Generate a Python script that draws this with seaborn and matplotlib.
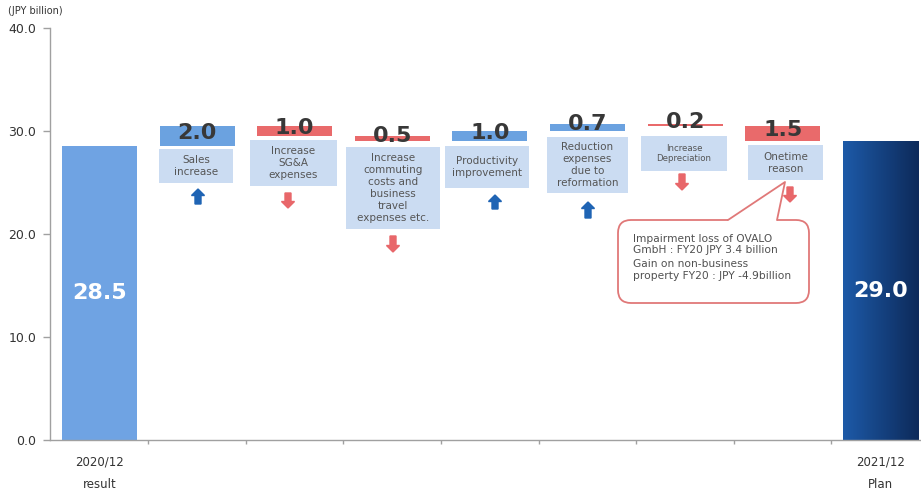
import numpy as np
import pandas as pd
import matplotlib
matplotlib.use("Agg")
import matplotlib.pyplot as plt
import seaborn as sns
from matplotlib.patches import Rectangle, FancyBboxPatch, Polygon, FancyArrow
from matplotlib.colors import LinearSegmentedColormap

# ---------------- data ----------------
start_label = "2020/12\nresult"
end_label = "2021/12\nPlan"
start_value = 28.5
end_value = 29.0
factor_names = [
    "Sales\nincrease",
    "Increase\nSG&A\nexpenses",
    "Increase\ncommuting\ncosts and\nbusiness\ntravel\nexpenses etc.",
    "Productivity\nimprovement",
    "Reduction\nexpenses\ndue to\nreformation",
    "Increase\nDepreciation",
    "Onetime\nreason",
]
factor_deltas = [2.0, -1.0, -0.5, 1.0, 0.7, -0.2, -1.5]
y_ticks = [0, 10, 20, 30, 40]
unit_label = "(JPY billion)"
callout_lines = [
    "Impairment loss of OVALO",
    "GmbH : FY20 JPY 3.4 billion",
    "Gain on non-business",
    "property FY20 : JPY -4.9billion",
]

# ---------------- derived waterfall table ----------------
keys = ["start"] + [f"f{i}" for i in range(len(factor_deltas))] + ["end"]
bottoms, heights, kinds = [0.0], [start_value], ["start"]
level = start_value
for d in factor_deltas:
    new = level + d
    bottoms.append(min(level, new))
    heights.append(abs(d))
    kinds.append("up" if d > 0 else "down")
    level = new
bottoms.append(0.0)
heights.append(end_value)
kinds.append("end")
df = pd.DataFrame({"key": keys, "height": heights, "bottom": bottoms, "kind": kinds})

# ---------------- layout / style ----------------
W, H, DPI = 921, 495, 100
col_start = "#6fa3e3"
col_up = "#6ba2e0"
col_down = "#e96a6b"
grad_left, grad_right = "#1d5aa8", "#0d2a5a"
box_fc = "#cbdcf2"
txt_dark = "#383838"
arrow_up_c = "#1f64b4"
arrow_down_c = "#e8676a"

# description boxes in reference pixels (left, right, top, bottom)
box_px = [(159, 233, 149, 183), (250, 337, 140, 186), (346, 440, 147, 229),
          (445, 529, 146, 188), (547, 628, 137, 193), (641, 727, 136, 171),
          (748, 823, 145, 180)]
box_fs = [7.5, 7.5, 7.5, 7.5, 7.5, 6.2, 7.5]
# arrows in reference pixels (x, top, bottom)
arrow_px = [(198, 189, 204), (288, 193, 208), (393, 236, 252), (495, 195, 209),
            (588, 202, 218), (682, 174, 190), (790, 187, 202)]


def P(px, py):
    """reference pixel -> figure inches (for dpi_scale_trans)"""
    return px / DPI, (H - py) / DPI


sns.set_style("white")
plt.rcParams["font.family"] = ["DejaVu Sans"]

fig = plt.figure(figsize=(W / DPI, H / DPI), dpi=DPI)
ax = fig.add_axes([50 / W, 55 / H, 871 / W, 412 / H])

sns.barplot(data=df, x="key", y="height", bottom=df["bottom"].values, order=keys,
            color=col_start, saturation=1, width=0.77, errorbar=None,
            linewidth=0, ax=ax)

color_map = {"start": col_start, "up": col_up, "down": col_down, "end": grad_left}
bars = list(ax.patches)
for bar, k in zip(bars, kinds):
    bar.set_facecolor(color_map[k])
    bar.set_edgecolor("none")

# gradient on final bar
fb = bars[-1]
x0, y0, w, h = fb.get_x(), fb.get_y(), fb.get_width(), fb.get_height()
cmap = LinearSegmentedColormap.from_list("g", [grad_left, grad_right])
im = ax.imshow(np.linspace(0, 1, 256).reshape(1, -1), extent=[x0, x0 + w, y0, y0 + h],
               cmap=cmap, aspect="auto", zorder=fb.get_zorder() + 0.1)
im.set_clip_path(fb)

ax.set_xlim(-0.507, 8.417)
ax.set_ylim(0, 40)

# axes styling
for s in ["top", "right"]:
    ax.spines[s].set_visible(False)
for s in ["left", "bottom"]:
    ax.spines[s].set_color("#a0a0a0")
    ax.spines[s].set_linewidth(1.0)
ax.set_yticks(y_ticks, labels=[f"{v:.1f}" for v in y_ticks])
ax.tick_params(axis="y", length=5, width=1, color="#a0a0a0", pad=5,
               labelsize=9, labelcolor="#333333", direction="out", left=True)
xt_labels = [start_label] + [""] * len(factor_deltas) + [end_label]
ax.set_xticks(range(len(keys)), labels=xt_labels)
ax.set_xticks(np.arange(0.5, len(keys) - 1, 1.0), minor=True)
ax.tick_params(axis="x", which="major", length=0, pad=11, labelsize=8.5,
               labelcolor="#333333")
ax.tick_params(axis="x", which="minor", length=3, width=1, color="#a0a0a0",
               direction="out", bottom=True)
for t in ax.get_xticklabels():
    t.set_linespacing(2.0)
ax.set_xlabel("")
ax.set_ylabel("")

# values inside start/end bars
for i in (0, len(keys) - 1):
    ax.text(i, heights[i] / 2, f"{heights[i]:.1f}", ha="center", va="center",
            color="white", fontsize=16, fontweight="bold", zorder=5)

tr = fig.dpi_scale_trans
# description boxes, arrows, and delta labels
for j, (name, d) in enumerate(zip(factor_names, factor_deltas)):
    l, r, t, b = box_px[j]
    xl, yb = P(l, b)
    xr, yt = P(r, t)
    ax.add_patch(Rectangle((xl, yb), xr - xl, yt - yb, transform=tr,
                           facecolor=box_fc, edgecolor="none", zorder=3,
                           clip_on=False))
    ax.text((xl + xr) / 2, (yb + yt) / 2, name, transform=tr, ha="center",
            va="center", fontsize=box_fs[j], color="#555555", linespacing=1.25,
            zorder=4)
    ax_, atop, abot = arrow_px[j]
    axx, ayt = P(ax_, atop)
    _, ayb = P(ax_, abot)
    if d > 0:
        arr = FancyArrow(axx, ayb, 0, ayt - ayb, width=0.06, head_width=0.13,
                         head_length=0.065, length_includes_head=True,
                         color=arrow_up_c, transform=tr, zorder=4)
    else:
        arr = FancyArrow(axx, ayt, 0, ayb - ayt, width=0.06, head_width=0.13,
                         head_length=0.065, length_includes_head=True,
                         color=arrow_down_c, transform=tr, zorder=4)
    arr.set_clip_on(False)
    ax.add_patch(arr)
    i = j + 1
    ax.text(i, bottoms[i] + heights[i] / 2 + 0.3, f"{abs(d):.1f}", ha="center",
            va="center", fontsize=16, fontweight="bold", color=txt_dark, zorder=6)

# callout
cx0, cy0 = P(618, 303)
cx1, cy1 = P(809, 220)
ax.add_patch(FancyBboxPatch((cx0, cy0), cx1 - cx0, cy1 - cy0,
                            boxstyle="round,pad=0,rounding_size=0.13",
                            transform=tr, facecolor="white", edgecolor="#e07878",
                            linewidth=1.3, zorder=7, clip_on=False))
pa, ptip, pb = P(728, 220), P(785, 182), P(777, 220)
pa_low, pb_low = P(729, 223), P(776, 223)
ax.add_patch(Polygon([pa_low, pa, ptip, pb, pb_low], closed=True, transform=tr,
                     facecolor="white", edgecolor="none", zorder=8, clip_on=False))
ax.plot([pa[0], ptip[0], pb[0]], [pa[1], ptip[1], pb[1]], transform=tr,
        color="#e07878", linewidth=1.3, zorder=9, clip_on=False)
for line, py in zip(callout_lines, [239, 250, 264, 276]):
    lx, ly = P(633, py)
    ax.text(lx, ly, line, transform=tr, ha="left", va="center", fontsize=7.7,
            color="#505050", zorder=10)

fig.text(8 / W, 1 - 11 / H, unit_label, ha="left", va="center", fontsize=7,
         color="#333333")

fig.savefig("out.png", dpi=DPI)
